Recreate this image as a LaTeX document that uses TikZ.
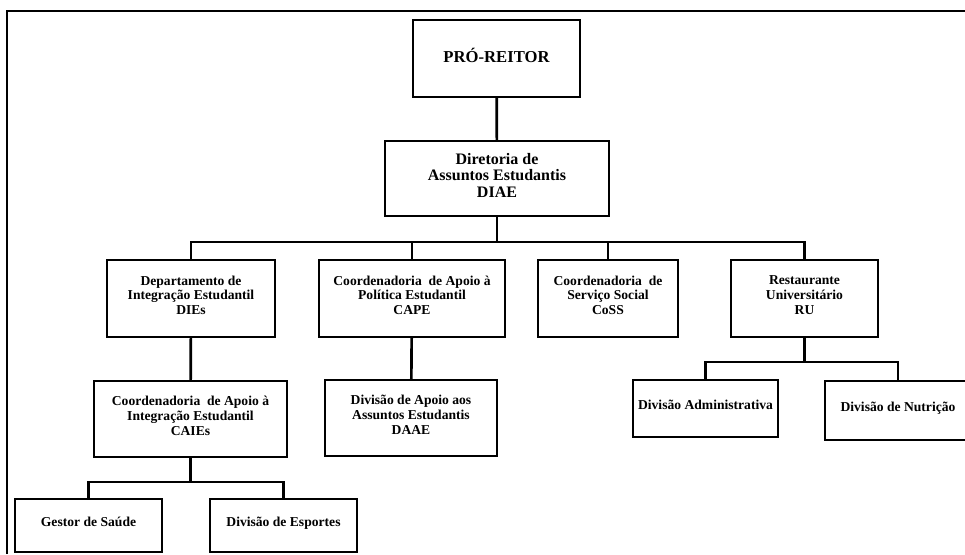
\documentclass[tikz,border=0pt]{standalone}
\usepackage{fontspec}
\setmainfont{Liberation Serif}
\begin{document}
\begin{tikzpicture}[x=0.75pt,y=-0.75pt]

    \tikzset{unit/.style={draw,shape=rectangle,line width=1.8pt,inner sep=0pt,
        align=center,text depth=5pt,font=\bfseries\fontsize{10.2}{11}\selectfont},
        size/.style 2 args={minimum width=#1,minimum height=#2}}
    \clip (0,0) rectangle (965,554);

    % outer frame
    \coordinate (f1) at (7,554);
    \coordinate (f2) at (7,11);
    \coordinate (f3) at (970,11);
    \draw[line width=1.7pt] (f1) -- (f2) -- (f3);

    \node[unit,size={125.25pt}{57.75pt},font=\bfseries\fontsize{12.5}{14}\selectfont] (pro) at (496.5,58.5) {PRÓ-REITOR};
    \node[unit,size={168pt}{56.25pt},font=\bfseries\fontsize{12}{12.5}\selectfont] (diae) at (497,178.5) {Diretoria de\\Assuntos Estudantis\\DIAE};

    \node[unit,size={126pt}{57.75pt}] (dies) at (191,298.5) {Departamento de\\Integração Estudantil\\DIEs};
    \node[unit,size={139.5pt}{57.75pt}] (cape) at (412,298.5) {Coordenadoria~ de Apoio à\\Política Estudantil\\CAPE};
    \node[unit,size={105pt}{57.75pt}] (coss) at (608,298.5) {Coordenadoria~ de\\Serviço Social\\CoSS};
    \node[unit,size={110.25pt}{57.75pt}] (ru) at (804.5,298.5) {Restaurante\\Universitário\\RU};

    \node[unit,size={144.75pt}{57pt}] (caies) at (190.5,419) {Coordenadoria~ de Apoio à\\Integração Estudantil\\CAIEs};
    \node[unit,size={129pt}{57pt}] (daae) at (411,418) {Divisão de Apoio aos\\Assuntos Estudantis\\DAAE};
    \node[unit,size={108.75pt}{42.75pt}] (adm) at (705.5,408.5) {Divisão Administrativa};
    \node[unit,size={109.5pt}{44.25pt}] (nutr) at (898,410.5) {Divisão de Nutrição};

    \node[unit,size={110.25pt}{39.75pt}] (saude) at (88.5,525.5) {Gestor de Saúde};
    \node[unit,size={110.25pt}{39.75pt}] (esp) at (283.5,525.5) {Divisão de Esportes};

    \coordinate (bus1) at (497,242);
    \coordinate (bus2) at (804.5,362);
    \coordinate (bus3) at (190.5,482);

    \begin{scope}[every path/.style={line width=2pt}]
        \draw (pro) -- (diae);
        \draw (diae) -- (bus1);
        \draw (dies.north) |- (bus1) -| (ru.north);
        \draw (cape.north) -- (cape.north |- bus1);
        \draw (coss.north) -- (coss.north |- bus1);
        \draw (dies) -- (caies);
        \draw (cape) -- (daae);
        \draw (ru) -- (bus2);
        \draw (adm.north) |- (bus2) -| (nutr.north);
        \draw (caies) -- (bus3);
        \draw (saude.north) |- (bus3) -| (esp.north);
    \end{scope}
\end{tikzpicture}
\end{document}
